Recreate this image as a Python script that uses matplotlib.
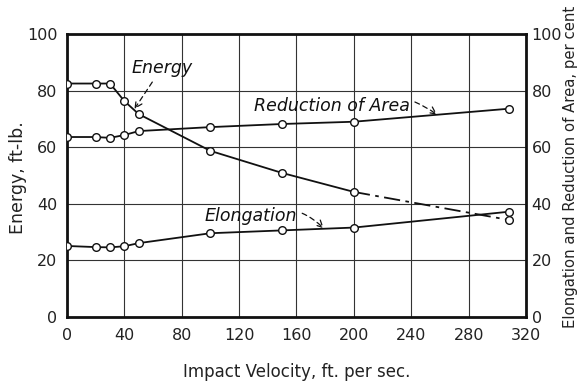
import matplotlib
matplotlib.use("Agg")
import matplotlib.pyplot as plt

# Data
velocity = [0, 20, 30, 40, 50, 100, 150, 200, 308]
energy = [82.5, 82.5, 82.5, 76.3, 71.7, 58.7, 50.9, 44.2, 34.3]
reduction_area = [63.6, 63.6, 63.3, 64.3, 65.7, 67.1, 68.2, 69.0, 73.6]
elongation = [25.1, 24.7, 24.6, 25.0, 26.1, 29.6, 30.6, 31.6, 37.2]
x_ticks = [0, 40, 80, 120, 160, 200, 240, 280, 320]
y_ticks = [0, 20, 40, 60, 80, 100]

plt.rcParams['font.family'] = ['DejaVu Sans']

fig = plt.figure(figsize=(5.82, 3.90), dpi=100)
ax = fig.add_axes([0.1151, 0.1872, 0.7887, 0.7256])
ax.set_xlim(0, 320)
ax.set_ylim(0, 100)

ax.set_xticks(x_ticks)
ax.set_yticks(y_ticks)
ax.grid(True, color='#333333', linewidth=0.8)
ax.set_axisbelow(True)
for s in ax.spines.values():
    s.set_linewidth(2.0)
    s.set_color('#111111')
ax.tick_params(length=0, labelsize=11.5, pad=8, colors='#222222')
ax.tick_params(axis='y', pad=7)

mk = dict(marker='o', markersize=5.5, markerfacecolor='white',
          markeredgecolor='#111111', markeredgewidth=1.0)
lc = '#111111'
lw = 1.3

# Energy: solid up to 200, dash-dot beyond
ax.plot(velocity[:8], energy[:8], color=lc, linewidth=lw, zorder=3)
ax.plot(velocity[7:], energy[7:], color=lc, linewidth=lw,
        linestyle=(0, (9, 3, 2, 3)), zorder=3)
ax.plot(velocity, energy, linestyle='none', zorder=4, **mk)

ax.plot(velocity, reduction_area, color=lc, linewidth=lw, zorder=3, **mk)
ax.plot(velocity, elongation, color=lc, linewidth=lw, zorder=3, **mk)

ann_kw = dict(fontsize=12.5, style='italic', color='#111111')
arrow = dict(arrowstyle='->', linestyle=(0, (4, 3)), color='#111111',
             linewidth=0.9, shrinkA=2, shrinkB=0)

ax.annotate('Energy', xy=(47, 73.5), xytext=(66, 88), ha='center', va='center',
            arrowprops=dict(connectionstyle='arc3,rad=0.0', **arrow), **ann_kw)
ax.annotate('Reduction of Area', xy=(258, 71.5), xytext=(184.5, 74.5),
            ha='center', va='center',
            arrowprops=dict(connectionstyle='arc3,rad=-0.3', **arrow), **ann_kw)
ax.annotate('Elongation', xy=(179, 31.3), xytext=(128, 35.7),
            ha='center', va='center',
            arrowprops=dict(connectionstyle='arc3,rad=-0.35', **arrow), **ann_kw)

fig.text(0.031, 0.544, 'Energy, ft-lb.', fontsize=12.5, color='#222222',
         rotation=90, ha='center', va='center')
fig.text(0.509, 0.046, 'Impact Velocity, ft. per sec.', fontsize=12,
         color='#222222', ha='center', va='center')

ax2 = ax.twinx()
ax2.set_ylim(0, 100)
ax2.set_yticks(y_ticks)
ax2.tick_params(length=0, labelsize=11.5, pad=4, colors='#222222')
for s in ax2.spines.values():
    s.set_visible(False)
fig.text(0.981, 0.572, 'Elongation and Reduction of Area, per cent',
         fontsize=10.7, color='#222222', rotation=90, ha='center', va='center')

fig.savefig('out.png', dpi=100, facecolor='white')
